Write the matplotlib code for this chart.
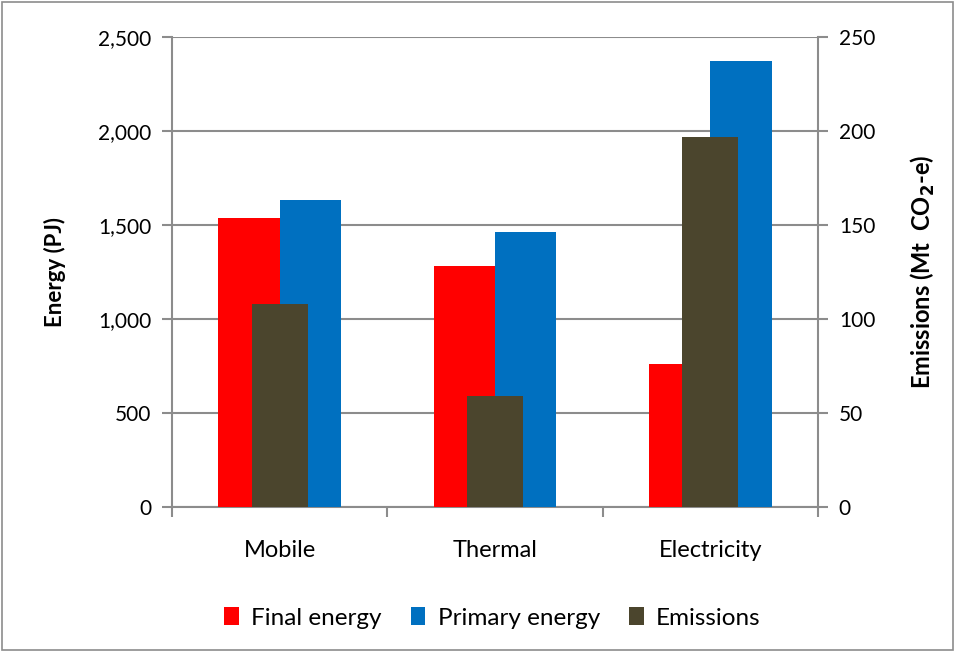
import matplotlib
matplotlib.use("Agg")
import matplotlib.pyplot as plt
import numpy as np
from matplotlib.patches import Rectangle

plt.rcParams['font.family'] = ['Lato', 'DejaVu Sans']

categories = ["Mobile", "Thermal", "Electricity"]
final_energy = [1537, 1282, 761]
primary_energy = [1633, 1463, 2372]
emissions = [108, 59, 197]

energy_ticks = [0, 500, 1000, 1500, 2000, 2500]
energy_labels = ["0", "500", "1,000", "1,500", "2,000", "2,500"]
emis_ticks = [0, 50, 100, 150, 200, 250]

RED = "#ff0000"
BLUE = "#0070c0"
OLIVE = "#4b452d"
GRID = "#8c8c8c"

fig = plt.figure(figsize=(9.56, 6.52), dpi=100)
ax = fig.add_axes([172/956, 1 - 507/652, (818-172)/956, (507-37)/652])
ax2 = ax.twinx()

x = np.arange(len(categories))
w = 0.285
ax.bar(x - w/2, final_energy, w, color=RED, label="Final energy", zorder=3)
ax.bar(x + w/2, primary_energy, w, color=BLUE, label="Primary energy", zorder=3)
ax2.bar(x, emissions, 0.26, color=OLIVE, label="Emissions", zorder=3)

ax.set_xlim(-0.5, 2.5)
ax.set_ylim(0, 2500)
ax2.set_ylim(0, 250)

ax.set_yticks(energy_ticks)
ax.set_yticklabels(energy_labels)
ax2.set_yticks(emis_ticks)
ax.yaxis.grid(True, color=GRID, linewidth=1.5, zorder=0)
ax.set_axisbelow(True)

# category ticks between groups
ax.set_xticks([-0.5, 0.5, 1.5, 2.5])
ax.set_xticklabels([])
ax.set_xticks(x, minor=True)
ax.set_xticklabels(categories, minor=True)
ax.tick_params(axis='x', which='minor', length=0, pad=24, labelsize=17)
ax.tick_params(axis='x', which='major', length=7, color=GRID, width=1.5)
ax.tick_params(axis='y', length=7, color=GRID, width=1.5, labelsize=15, pad=8)
ax2.tick_params(axis='y', length=7, color=GRID, width=1.5, labelsize=15, pad=8)

for a in (ax, ax2):
    for s in a.spines.values():
        s.set_visible(False)
ax.spines['left'].set_visible(True)
ax.spines['left'].set_color(GRID)
ax.spines['left'].set_linewidth(1.5)
ax.spines['bottom'].set_visible(True)
ax.spines['bottom'].set_color(GRID)
ax.spines['bottom'].set_linewidth(1.5)
ax2.spines['right'].set_visible(True)
ax2.spines['right'].set_color(GRID)
ax2.spines['right'].set_linewidth(1.5)

ax.set_ylabel("Energy (PJ)", fontsize=16, fontweight='bold')
ax.yaxis.set_label_coords(-0.164, 0.5)
ax2.set_ylabel("Emissions (Mt  CO$_\\mathbf{2}$-e)", fontsize=17, fontweight='bold')
ax2.yaxis.set_label_coords(1.141, 0.5)

h1, l1 = ax.get_legend_handles_labels()
h2, l2 = ax2.get_legend_handles_labels()
fig.legend(h1 + h2, l1 + l2, loc='center', bbox_to_anchor=(0.515, 1 - 618/652),
           ncol=3, frameon=False, fontsize=17.5, handlelength=0.6, handleheight=0.7,
           handletextpad=0.5, columnspacing=1.2)

fig.patches.append(Rectangle((0.002, 0.003), 0.995, 0.994, transform=fig.transFigure,
                             fill=False, edgecolor=GRID, linewidth=1.2))

fig.savefig("out.png", dpi=100)
